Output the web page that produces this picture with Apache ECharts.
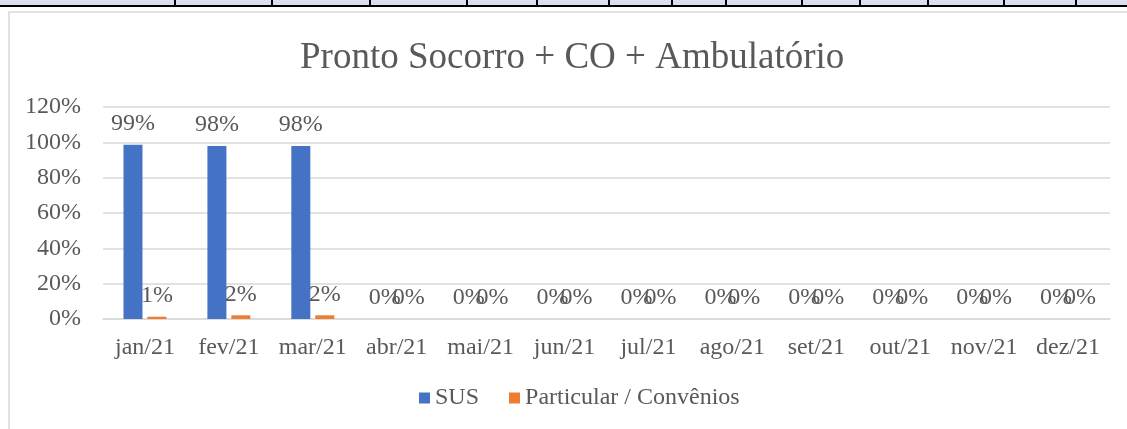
<!DOCTYPE html>
<html lang="pt">
<head>
    <meta charset="UTF-8">
    <title>Pronto Socorro + CO + Ambulatório</title>
    <script src="https://cdn.jsdelivr.net/npm/echarts@6/dist/echarts.min.js"></script>
    <style>
        html, body { margin: 0; padding: 0; background: #fff; }
    </style>
</head>
<body>
<div id="main" style="width: 1127px;height:429px;"></div>

<script type="text/javascript">
    // dados
    var meses = ['jan/21', 'fev/21', 'mar/21', 'abr/21', 'mai/21', 'jun/21',
        'jul/21', 'ago/21', 'set/21', 'out/21', 'nov/21', 'dez/21'];
    var sus = [98.7, 97.9, 97.9, 0, 0, 0, 0, 0, 0, 0, 0, 0];
    var particular = [1.3, 2.1, 2.1, 0, 0, 0, 0, 0, 0, 0, 0, 0];
    var ticksY = [0, 20, 40, 60, 80, 100, 120];

    // linhas da planilha no topo (decoração)
    var divisorias = [175, 272, 370, 467, 537, 609, 672, 726, 802, 860, 928, 1004, 1076];

    var fonte = '"Liberation Serif", "Times New Roman", serif';
    var cinza = '#595959';

    var graficos = [
        { type: 'rect', shape: { x: 0, y: 0, width: 1127, height: 5 }, style: { fill: '#dae0f2' }, silent: true },
        { type: 'rect', shape: { x: 0, y: 5, width: 1127, height: 2 }, style: { fill: '#000' }, silent: true },
        { type: 'rect', shape: { x: 9, y: 12, width: 1200, height: 600 },
            style: { fill: 'none', stroke: '#d9d9d9', lineWidth: 1.5 }, silent: true }
    ];
    divisorias.forEach(function (x) {
        graficos.push({ type: 'rect', shape: { x: x - 1, y: 0, width: 2, height: 6 }, style: { fill: '#000' }, silent: true });
    });

    var myChart = echarts.init(document.getElementById('main'));

    var rotulo = {
        show: true,
        position: 'top',
        distance: 9,
        color: cinza,
        fontFamily: fonte,
        fontSize: 24,
        formatter: function (p) { return Math.round(p.value) + '%'; }
    };

    option = {
        animation: false,
        graphic: graficos,
        title: {
            text: 'Pronto Socorro + CO + Ambulatório',
            left: 300,
            top: 40,
            padding: 0,
            textStyle: { color: cinza, fontFamily: fonte, fontSize: 37, fontWeight: 'normal' }
        },
        legend: {
            data: ['SUS', 'Particular / Convênios'],
            left: 419,
            top: 386,
            padding: 0,
            itemWidth: 11,
            itemHeight: 11,
            itemGap: 30,
            icon: 'rect',
            textStyle: { color: cinza, fontFamily: fonte, fontSize: 24 }
        },
        grid: { left: 103, right: 17, top: 107, bottom: 110 },
        xAxis: {
            type: 'category',
            data: meses,
            axisLine: { lineStyle: { color: '#d9d9d9', width: 1.5 } },
            axisTick: { show: false },
            axisLabel: { color: cinza, fontFamily: fonte, fontSize: 24, margin: 17, interval: 0 }
        },
        yAxis: {
            type: 'value',
            min: ticksY[0],
            max: ticksY[ticksY.length - 1],
            interval: 20,
            axisLine: { show: false },
            axisTick: { show: false },
            splitLine: { lineStyle: { color: '#d9d9d9', width: 1.5 } },
            axisLabel: { color: cinza, fontFamily: fonte, fontSize: 24, margin: 22, formatter: '{value}%' }
        },
        series: [
            {
                name: 'SUS',
                type: 'bar',
                data: sus,
                barWidth: 19,
                barGap: '26%',
                itemStyle: { color: '#4472c4' },
                label: rotulo
            },
            {
                name: 'Particular / Convênios',
                type: 'bar',
                data: particular,
                barWidth: 19,
                itemStyle: { color: '#ed7d31' },
                label: rotulo
            }
        ]
    };

    myChart.setOption(option);
</script>
</body>
</html>
